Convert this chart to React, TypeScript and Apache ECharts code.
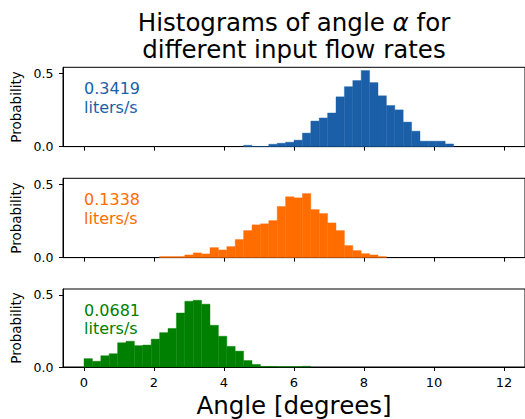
import React, { useEffect, useRef } from "react";
import * as echarts from "echarts";

// Histogram bins: 50 bins of width 0.24 covering 0..12 degrees
const BIN_START = 0;
const BIN_WIDTH = 0.24;

const blueValues = [
  0, 0, 0, 0, 0, 0, 0, 0, 0, 0,
  0, 0, 0, 0, 0, 0, 0, 0, 0, 0.009,
  0.001, 0.001, 0.016, 0.023, 0.03, 0.044, 0.092, 0.174, 0.195, 0.229,
  0.339, 0.408, 0.45, 0.518, 0.436, 0.346, 0.28, 0.25, 0.167, 0.105,
  0.037, 0.037, 0.037, 0.018, 0, 0, 0, 0, 0, 0,
];
const orangeValues = [
  0, 0, 0, 0, 0, 0, 0, 0, 0, 0.007,
  0.007, 0.007, 0.018, 0.032, 0.025, 0.068, 0.052, 0.075, 0.123, 0.184,
  0.223, 0.23, 0.252, 0.348, 0.414, 0.407, 0.436, 0.327, 0.3, 0.236,
  0.184, 0.082, 0.048, 0.027, 0.018, 0.007, 0, 0, 0, 0,
  0, 0, 0, 0, 0, 0, 0, 0, 0, 0,
];
const greenValues = [
  0.058, 0.04, 0.078, 0.092, 0.168, 0.179, 0.148, 0.152, 0.193, 0.238,
  0.267, 0.374, 0.455, 0.462, 0.435, 0.289, 0.213, 0.143, 0.11, 0.045,
  0.018, 0.004, 0.004, 0.002, 0.002, 0.002, 0.005, 0, 0, 0,
  0, 0, 0, 0, 0, 0, 0, 0, 0, 0,
  0, 0, 0, 0, 0, 0, 0, 0, 0, 0,
];

const flowLabels = ["0.3419", "0.1338", "0.0681"];
const colors = ["#1a5fa8", "#ff6d00", "#008000"];
const xTicks = [0, 2, 4, 6, 8, 10, 12];
const yTicks = [0, 0.5];

const FONT = "DejaVu Sans";

export default function App() {
  const ref = useRef<HTMLDivElement>(null);
  useEffect(() => {
    if (!ref.current) return;
    const chart = echarts.init(ref.current, undefined, { renderer: "svg" });
    const allValues = [blueValues, orangeValues, greenValues];
    const gridTops = [67.3, 178.3, 289];
    const gridH = 79.3;
    const grids = gridTops.map((t) => ({
      left: 63,
      top: t,
      width: 462.7,
      height: gridH,
      show: true,
      borderColor: "#000",
      borderWidth: 1,
      backgroundColor: "transparent",
    }));
    const xAxes = gridTops.map((_, i) => ({
      type: "value",
      gridIndex: i,
      min: -0.6,
      max: 12.6,
      axisLine: { show: true, onZero: false, lineStyle: { color: "#000", width: 1 } },
      axisTick: {
        show: true,
        inside: false,
        length: 4,
        customValues: xTicks,
        lineStyle: { color: "#000", width: 1 },
      },
      axisLabel: {
        show: i === 2,
        customValues: xTicks,
        margin: 9,
        fontFamily: FONT,
        fontSize: 13,
        color: "#000",
      },
      splitLine: { show: false },
      name: i === 2 ? "Angle [degrees]" : "",
      nameLocation: "middle",
      nameGap: 26,
      nameTextStyle: { fontFamily: FONT, fontSize: 24.5, color: "#000" },
    }));
    const yAxes = gridTops.map((_, i) => ({
      type: "value",
      gridIndex: i,
      min: 0,
      max: 0.54,
      axisLine: { show: true, onZero: false, lineStyle: { color: "#000", width: 1 } },
      axisTick: {
        show: true,
        inside: false,
        length: 4,
        customValues: yTicks,
        lineStyle: { color: "#000", width: 1 },
      },
      axisLabel: {
        show: true,
        customValues: yTicks,
        margin: 9.5,
        fontFamily: FONT,
        fontSize: 12.5,
        color: "#000",
        formatter: (v: number) => v.toFixed(1),
      },
      splitLine: { show: false },
      name: "Probability",
      nameLocation: "middle",
      nameGap: 37,
      nameRotate: 90,
      nameTextStyle: { fontFamily: FONT, fontSize: 13.5, color: "#000" },
    }));
    const series = allValues.map((vals, i) => ({
      type: "custom",
      xAxisIndex: i,
      yAxisIndex: i,
      data: vals.map((h, k) => [BIN_START + k * BIN_WIDTH, BIN_START + (k + 1) * BIN_WIDTH, h]),
      encode: { x: [0, 1], y: 2 },
      renderItem: (params: any, api: any) => {
        const h = api.value(2);
        if (!h) return null;
        const p0 = api.coord([api.value(0), h]);
        const p1 = api.coord([api.value(1), 0]);
        return {
          type: "rect",
          shape: { x: p0[0], y: p0[1], width: p1[0] - p0[0], height: p1[1] - p0[1] },
          style: { fill: colors[i], stroke: colors[i], lineWidth: 0.4 },
        };
      },
    }));
    const labelGraphics = flowLabels.map((lab, i) => ({
      type: "text",
      left: 84,
      top: gridTops[i] + 12.5,
      style: {
        text: lab + "\nliters/s",
        fontFamily: FONT,
        fontSize: 16,
        lineHeight: 18.3,
        fill: colors[i],
      },
    }));
    chart.setOption({
      animation: false,
      grid: grids,
      xAxis: xAxes,
      yAxis: yAxes,
      series,
      graphic: [
        {
          type: "text",
          x: 294,
          y: 8.5,
          style: {
            text: "{n|Histograms of angle }{a|α}{n| for}\n{n|different input flow rates}",
            align: "center",
            rich: {
              n: { fontFamily: FONT, fontSize: 24.5, lineHeight: 27, fill: "#000" },
              a: { fontFamily: FONT, fontSize: 24.5, fontStyle: "italic", lineHeight: 27, fill: "#000" },
            },
          },
        },
        ...labelGraphics,
      ],
    });
    return () => chart.dispose();
  }, []);
  return (
    <div
      ref={ref}
      style={{ position: "absolute", left: 0, top: 0, width: 525, height: 419, background: "#fff", overflow: "hidden" }}
    />
  );
}
